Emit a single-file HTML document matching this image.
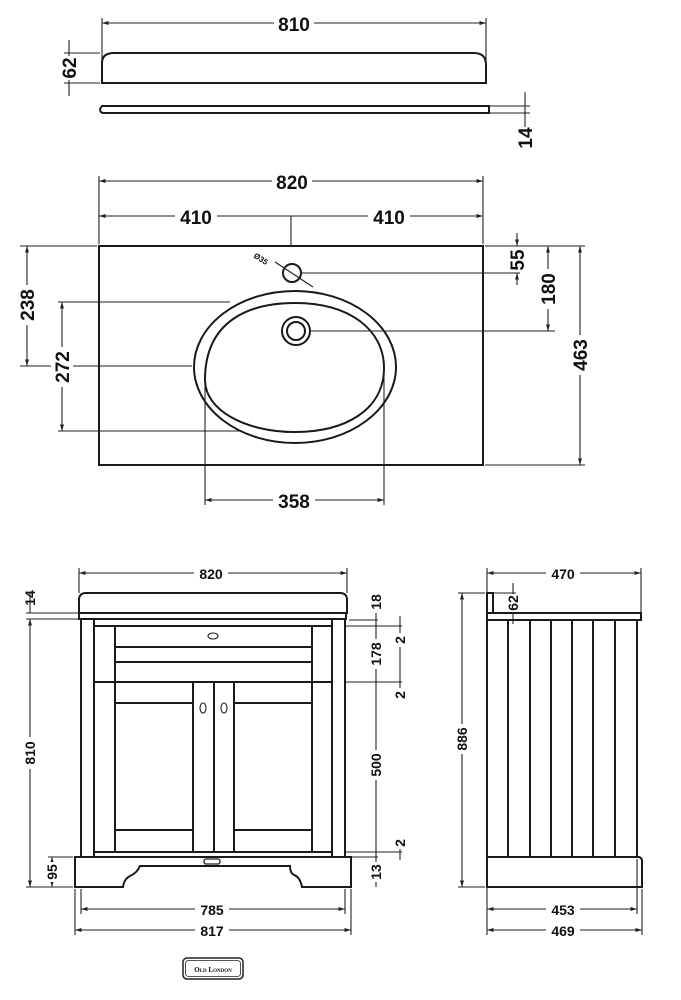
<!DOCTYPE html>
<html><head><meta charset="utf-8"><style>
html,body{margin:0;padding:0;background:#fff}
svg{display:block}
text{font-family:"Liberation Sans",sans-serif;font-weight:bold;fill:#111}
.l{stroke:#222;stroke-width:1.1;fill:none}
.t{stroke:#1a1a1a;stroke-width:2;fill:none}
</style></head><body>
<svg width="681" height="1000" viewBox="0 0 681 1000" xmlns="http://www.w3.org/2000/svg">
<defs>
<marker id="a" viewBox="0 0 10 10" refX="10" refY="5" markerWidth="6" markerHeight="6" orient="auto-start-reverse"><path d="M0,2 L10,5 L0,8 z" fill="#222"/></marker>
</defs>
<!-- TOP: upstand -->
<line class="l" x1="102" y1="23" x2="486" y2="23" marker-start="url(#a)" marker-end="url(#a)"/>
<line class="l" x1="102" y1="18" x2="102" y2="83"/><line class="l" x1="486" y1="18" x2="486" y2="83"/>
<rect x="274" y="12" width="40" height="22" fill="#fff"/>
<text x="294" y="31" font-size="19" text-anchor="middle">810</text>
<path class="t" d="M102,83 L102,63 Q102,53 114,53 L474,53 Q486,53 486,65 L486,83 Z"/>
<line class="l" x1="69" y1="40" x2="69" y2="96"/>
<line class="l" x1="64" y1="53" x2="100" y2="53"/><line class="l" x1="64" y1="83" x2="100" y2="83"/>
<rect x="61" y="56" width="16" height="24" fill="#fff"/>
<text transform="translate(76,68) rotate(-90)" font-size="19" text-anchor="middle">62</text>
<path class="t" d="M102,106 L489,106 L489,113 L104,113 Q100,113 100,109 Z"/>
<line class="l" x1="490" y1="106" x2="530" y2="106"/><line class="l" x1="490" y1="113" x2="530" y2="113"/>
<line class="l" x1="525" y1="92" x2="525" y2="127"/>
<text transform="translate(532,138) rotate(-90)" font-size="19" text-anchor="middle">14</text>

<!-- PLAN -->
<rect class="t" x="99" y="246" width="384" height="219"/>
<line class="l" x1="99" y1="181" x2="483" y2="181" marker-start="url(#a)" marker-end="url(#a)"/>
<line class="l" x1="99" y1="176" x2="99" y2="244"/><line class="l" x1="483" y1="176" x2="483" y2="244"/>
<rect x="272" y="170" width="40" height="22" fill="#fff"/>
<text x="292" y="189" font-size="19" text-anchor="middle">820</text>
<line class="l" x1="99" y1="216" x2="483" y2="216" marker-start="url(#a)" marker-end="url(#a)"/>
<line class="l" x1="291" y1="216" x2="291" y2="246"/>
<rect x="175" y="205" width="42" height="22" fill="#fff"/><rect x="368" y="205" width="42" height="22" fill="#fff"/>
<text x="196" y="224" font-size="19" text-anchor="middle">410</text>
<text x="389" y="224" font-size="19" text-anchor="middle">410</text>
<!-- basin -->
<ellipse class="t" cx="295" cy="367" rx="101" ry="76"/>
<path class="t" d="M205,380 C205,320 250,303 295,303 C350,303 384,330 384,368 C384,410 345,432 295,432 C245,432 205,410 205,380"/>
<circle class="t" cx="296" cy="331" r="14"/><circle class="t" cx="296" cy="331" r="9"/>
<circle class="t" cx="292" cy="273" r="9"/>
<line class="l" x1="275" y1="262" x2="313" y2="287"/>
<text transform="translate(253,257) rotate(33)" font-size="8" font-weight="normal">Ø35</text>
<line class="l" x1="302" y1="273" x2="520" y2="273"/>
<line class="l" x1="311" y1="331" x2="555" y2="331"/>
<line class="l" x1="485" y1="246" x2="585" y2="246"/><line class="l" x1="485" y1="465" x2="585" y2="465"/>
<line class="l" x1="517" y1="233" x2="517" y2="246" marker-end="url(#a)"/>
<line class="l" x1="517" y1="285" x2="517" y2="273" marker-end="url(#a)"/>
<text transform="translate(524,260) rotate(-90)" font-size="19" text-anchor="middle">55</text>
<line class="l" x1="548" y1="246" x2="548" y2="331" marker-start="url(#a)" marker-end="url(#a)"/>
<rect x="537" y="269" width="22" height="40" fill="#fff"/>
<text transform="translate(555,289) rotate(-90)" font-size="19" text-anchor="middle">180</text>
<line class="l" x1="580" y1="246" x2="580" y2="465" marker-start="url(#a)" marker-end="url(#a)"/>
<rect x="569" y="335" width="22" height="40" fill="#fff"/>
<text transform="translate(587,355) rotate(-90)" font-size="19" text-anchor="middle">463</text>
<line class="l" x1="20" y1="246" x2="97" y2="246"/><line class="l" x1="20" y1="366" x2="192" y2="366"/>
<line class="l" x1="27" y1="246" x2="27" y2="366" marker-start="url(#a)" marker-end="url(#a)"/>
<rect x="16" y="285" width="22" height="40" fill="#fff"/>
<text transform="translate(34,305) rotate(-90)" font-size="19" text-anchor="middle">238</text>
<line class="l" x1="58" y1="302" x2="230" y2="302"/><line class="l" x1="58" y1="431" x2="240" y2="431"/>
<line class="l" x1="62" y1="302" x2="62" y2="431" marker-start="url(#a)" marker-end="url(#a)"/>
<rect x="51" y="347" width="22" height="40" fill="#fff"/>
<text transform="translate(69,367) rotate(-90)" font-size="19" text-anchor="middle">272</text>
<line class="l" x1="205" y1="380" x2="205" y2="505"/><line class="l" x1="384" y1="368" x2="384" y2="505"/>
<line class="l" x1="205" y1="500" x2="384" y2="500" marker-start="url(#a)" marker-end="url(#a)"/>
<rect x="273" y="490" width="42" height="22" fill="#fff"/>
<text x="294" y="508" font-size="19" text-anchor="middle">358</text>

<!-- FRONT -->
<line class="l" x1="79" y1="573" x2="347" y2="573" marker-start="url(#a)" marker-end="url(#a)"/>
<line class="l" x1="79" y1="568" x2="79" y2="593"/><line class="l" x1="347" y1="568" x2="347" y2="593"/>
<rect x="194" y="565" width="34" height="16" fill="#fff"/>
<text x="211" y="579" font-size="14" text-anchor="middle">820</text>
<path class="t" d="M79,613 L79,600 Q79,593 86,593 L340,593 Q347,593 347,600 L347,613 Z"/>
<rect class="t" x="79" y="613" width="267" height="6"/>
<rect class="t" x="81" y="619" width="264" height="238"/>
<line class="t" x1="94" y1="619" x2="94" y2="857"/><line class="t" x1="332" y1="619" x2="332" y2="857"/>
<rect class="t" x="94" y="626" width="238" height="226"/>
<line class="t" x1="115" y1="626" x2="115" y2="852"/><line class="t" x1="312" y1="626" x2="312" y2="852"/>
<line class="t" x1="115" y1="647" x2="312" y2="647"/><line class="t" x1="115" y1="662" x2="312" y2="662"/>
<line class="t" x1="94" y1="682" x2="332" y2="682"/>
<ellipse class="l" cx="213" cy="636" rx="5" ry="3"/>
<line class="t" x1="193" y1="682" x2="193" y2="852"/><line class="t" x1="214" y1="682" x2="214" y2="852"/><line class="t" x1="234" y1="682" x2="234" y2="852"/>
<line class="t" x1="115" y1="703" x2="193" y2="703"/><line class="t" x1="234" y1="703" x2="312" y2="703"/>
<line class="t" x1="115" y1="830" x2="193" y2="830"/><line class="t" x1="234" y1="830" x2="312" y2="830"/>
<ellipse class="l" cx="203" cy="708" rx="3" ry="5"/><ellipse class="l" cx="224" cy="708" rx="3" ry="5"/>
<path class="t" d="M75,857 L351,857 L351,887 L302,887 Q300,877 294,875 Q290,873 290,866 L140,866 Q137,873 130,876 Q124,879 123,887 L75,887 Z"/>
<rect x="204" y="859" width="16" height="5" rx="2" fill="#fff" stroke="#222" stroke-width="1.3"/>
<line class="l" x1="81" y1="889" x2="81" y2="914"/><line class="l" x1="345" y1="889" x2="345" y2="914"/>
<line class="l" x1="75" y1="889" x2="75" y2="935"/><line class="l" x1="351" y1="889" x2="351" y2="935"/>
<line class="l" x1="81" y1="909" x2="345" y2="909" marker-start="url(#a)" marker-end="url(#a)"/>
<rect x="195" y="901" width="34" height="16" fill="#fff"/>
<text x="212" y="915" font-size="14" text-anchor="middle">785</text>
<line class="l" x1="75" y1="930" x2="351" y2="930" marker-start="url(#a)" marker-end="url(#a)"/>
<rect x="195" y="922" width="34" height="16" fill="#fff"/>
<text x="212" y="936" font-size="14" text-anchor="middle">817</text>
<rect x="183" y="958" width="60" height="21" rx="4" fill="#fff" stroke="#222" stroke-width="1.5"/>
<rect x="185.5" y="960.5" width="55" height="16" rx="3" fill="none" stroke="#222" stroke-width="0.8"/>
<text x="213" y="972" font-size="7" text-anchor="middle" style="font-family:'Liberation Serif',serif;font-variant:small-caps">Old London</text>
<!-- left dims -->
<line class="l" x1="26" y1="613" x2="79" y2="613"/><line class="l" x1="26" y1="619" x2="79" y2="619"/>
<line class="l" x1="30" y1="592" x2="30" y2="613"/>
<text transform="translate(35,598) rotate(-90)" font-size="14" text-anchor="middle">14</text>
<line class="l" x1="30" y1="619" x2="30" y2="887" marker-start="url(#a)" marker-end="url(#a)"/>
<line class="l" x1="26" y1="887" x2="73" y2="887"/>
<rect x="22" y="737" width="16" height="32" fill="#fff"/>
<text transform="translate(35,753) rotate(-90)" font-size="14" text-anchor="middle">810</text>
<line class="l" x1="48" y1="857" x2="73" y2="857"/>
<line class="l" x1="52" y1="857" x2="52" y2="887" marker-start="url(#a)" marker-end="url(#a)"/>
<rect x="44" y="862" width="16" height="20" fill="#fff"/>
<text transform="translate(57,872) rotate(-90)" font-size="14" text-anchor="middle">95</text>
<!-- right dims -->
<line class="l" x1="349" y1="620" x2="378" y2="620"/>
<line class="l" x1="346" y1="626" x2="402" y2="626"/><line class="l" x1="346" y1="682" x2="402" y2="682"/>
<line class="l" x1="346" y1="852" x2="402" y2="852"/><line class="l" x1="352" y1="857" x2="378" y2="857"/>
<line class="l" x1="376" y1="593" x2="376" y2="887"/>
<rect x="368" y="593" width="16" height="20" fill="#fff"/>
<text transform="translate(381,602) rotate(-90)" font-size="14" text-anchor="middle">18</text>
<rect x="368" y="639" width="16" height="30" fill="#fff"/>
<text transform="translate(381,654) rotate(-90)" font-size="14" text-anchor="middle">178</text>
<rect x="368" y="750" width="16" height="30" fill="#fff"/>
<text transform="translate(381,765) rotate(-90)" font-size="14" text-anchor="middle">500</text>
<rect x="368" y="862" width="16" height="20" fill="#fff"/>
<text transform="translate(381,872) rotate(-90)" font-size="14" text-anchor="middle">13</text>
<line class="l" x1="400" y1="616" x2="400" y2="690"/>
<line class="l" x1="400" y1="835" x2="400" y2="860"/>
<rect x="392" y="633" width="16" height="14" fill="#fff"/><rect x="392" y="688" width="16" height="14" fill="#fff"/>
<text transform="translate(405,640) rotate(-90)" font-size="14" text-anchor="middle">2</text>
<text transform="translate(405,695) rotate(-90)" font-size="14" text-anchor="middle">2</text>
<rect x="392" y="835" width="16" height="14" fill="#fff"/>
<text transform="translate(405,843) rotate(-90)" font-size="14" text-anchor="middle">2</text>

<!-- SIDE -->
<line class="l" x1="487" y1="573" x2="641" y2="573" marker-start="url(#a)" marker-end="url(#a)"/>
<line class="l" x1="487" y1="568" x2="487" y2="593"/><line class="l" x1="641" y1="568" x2="641" y2="613"/>
<rect x="546" y="565" width="34" height="16" fill="#fff"/>
<text x="563" y="579" font-size="14" text-anchor="middle">470</text>
<rect class="t" x="487" y="593" width="6" height="20"/>
<rect class="t" x="487" y="613" width="154" height="7"/>
<rect class="t" x="487" y="620" width="150" height="237"/>
<g class="t"><line x1="508" y1="620" x2="508" y2="857"/><line x1="530" y1="620" x2="530" y2="857"/><line x1="551" y1="620" x2="551" y2="857"/><line x1="572" y1="620" x2="572" y2="857"/><line x1="593" y1="620" x2="593" y2="857"/><line x1="615" y1="620" x2="615" y2="857"/></g>
<path class="t" d="M487,857 L639,857 Q642,858 642,861 L642,887 L487,887 Z"/>
<line class="l" x1="458" y1="593" x2="485" y2="593"/><line class="l" x1="458" y1="887" x2="485" y2="887"/>
<line class="l" x1="462" y1="593" x2="462" y2="887" marker-start="url(#a)" marker-end="url(#a)"/>
<rect x="454" y="724" width="16" height="30" fill="#fff"/>
<text transform="translate(467,739) rotate(-90)" font-size="14" text-anchor="middle">886</text>
<line class="l" x1="494" y1="593" x2="516" y2="593"/>
<line class="l" x1="513" y1="583" x2="513" y2="624"/>
<rect x="505" y="594" width="16" height="18" fill="#fff"/>
<text transform="translate(518,603) rotate(-90)" font-size="14" text-anchor="middle">62</text>
<line class="l" x1="637" y1="859" x2="637" y2="914"/><line class="l" x1="642" y1="889" x2="642" y2="935"/>
<line class="l" x1="487" y1="887" x2="487" y2="935"/>
<line class="l" x1="487" y1="909" x2="637" y2="909" marker-start="url(#a)" marker-end="url(#a)"/>
<rect x="546" y="901" width="34" height="16" fill="#fff"/>
<text x="563" y="915" font-size="14" text-anchor="middle">453</text>
<line class="l" x1="487" y1="930" x2="642" y2="930" marker-start="url(#a)" marker-end="url(#a)"/>
<rect x="546" y="922" width="34" height="16" fill="#fff"/>
<text x="563" y="936" font-size="14" text-anchor="middle">469</text>
</svg>
</body></html>
